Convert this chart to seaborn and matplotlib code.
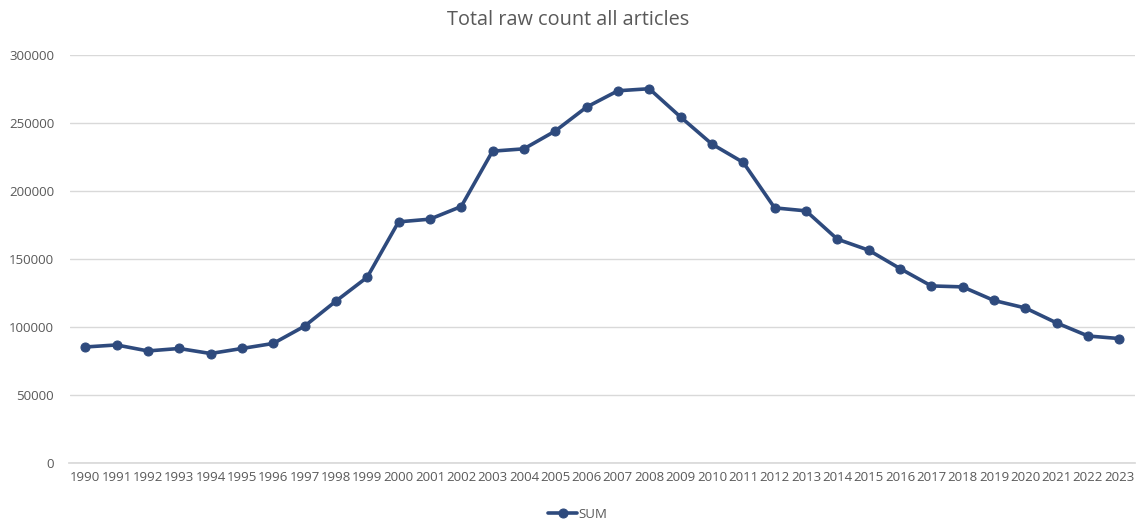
import matplotlib
matplotlib.use("Agg")
import matplotlib.pyplot as plt
import seaborn as sns
import pandas as pd

sns.set_theme(style="white")
plt.rcParams['font.family'] = ['Open Sans', 'DejaVu Sans']

# data
years = list(range(1990, 2024))
counts = [85300, 86800, 82400, 84200, 80500, 84200, 87900, 100600, 119000, 136600,
          177300, 179300, 188600, 229300, 231000, 244100, 261700, 273700, 275200, 254400,
          234500, 221000, 187600, 185400, 164600, 156500, 143000, 130200, 129500, 119500,
          114000, 103000, 93400, 91500]

df = pd.DataFrame({'year': years, 'SUM': counts})

line_color = '#2E4A7D'
text_color = '#595959'
grid_color = '#D9D9D9'

fig = plt.figure(figsize=(11.37, 5.21), dpi=100)
ax = fig.add_axes([69.5 / 1137, 1 - 463 / 521, (1135 - 69.5) / 1137, (463 - 55) / 521])

sns.lineplot(data=df, x='year', y='SUM', ax=ax, color=line_color, linewidth=2.6,
             marker='o', markersize=6.5, markeredgecolor=line_color, label='SUM')

ax.set_xlim(1989.5, 2023.5)
ax.set_ylim(0, 300000)
ax.set_xticks(years)
ax.set_xticklabels([str(y) for y in years], fontsize=9.5, color=text_color)
ax.set_yticks(range(0, 300001, 50000))
ax.set_yticklabels([str(v) for v in range(0, 300001, 50000)], fontsize=9.5, color=text_color)
ax.tick_params(axis='both', length=0)
ax.tick_params(axis='y', pad=11)
ax.tick_params(axis='x', pad=6)
ax.yaxis.grid(True, color=grid_color, linewidth=1)
ax.set_axisbelow(True)
for s in ['top', 'right', 'left']:
    ax.spines[s].set_visible(False)
ax.spines['bottom'].set_color(grid_color)
ax.set_xlabel('')
ax.set_ylabel('')

fig.text(0.5, 1 - 20 / 521, 'Total raw count all articles', ha='center', va='center',
         fontsize=14.3, color=text_color)

ax.get_legend().remove()
handles, labels = ax.get_legend_handles_labels()
fig.legend(handles, labels, loc='center', bbox_to_anchor=(578 / 1137, 1 - 514 / 521),
           frameon=False, fontsize=9.5, labelcolor=text_color, handlelength=2.2,
           handletextpad=0.1)

plt.savefig('out.png', dpi=100)
